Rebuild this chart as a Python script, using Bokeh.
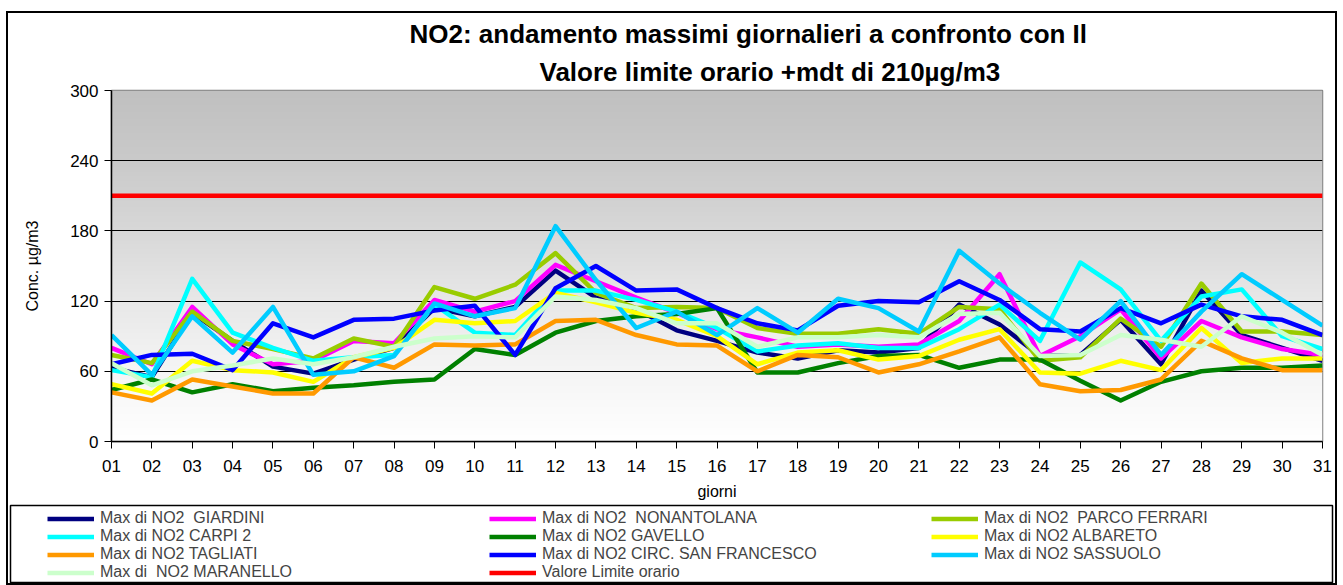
import numpy as np
from bokeh.plotting import figure
from bokeh.layouts import column
from bokeh.models import Range1d, FixedTicker, Legend, LegendItem, Title
from bokeh.embed import file_html
from bokeh.resources import INLINE

# ---------------- data ----------------
days = list(range(1, 32))
day_labels = [f"{d:02d}" for d in days]
y_ticks = [0, 60, 120, 180, 240, 300]

giardini = [63, 55, 110, 86, 64, 58, 70, 80, 114, 107, 115, 146, 123, 113, 95, 86,
            76, 71, 78, 76, 80, 117, 100, 73, 74, 104, 66, 129, 91, 80, 69]
nonantolana = [80, 66, 115, 83, 66, 69, 86, 84, 121, 111, 120, 151, 137, 123, 110, 96,
               89, 81, 83, 81, 83, 103, 143, 73, 90, 113, 71, 103, 89, 79, 74]
parco_ferrari = [74, 67, 111, 86, 79, 71, 88, 81, 132, 122, 134, 161, 127, 114, 115, 114,
                 97, 92, 92, 96, 92, 115, 113, 69, 72, 105, 81, 135, 94, 94, 91]
carpi2 = [61, 55, 139, 93, 80, 69, 72, 74, 117, 93, 91, 129, 129, 121, 111, 97,
          77, 82, 84, 80, 80, 96, 117, 86, 153, 130, 86, 124, 130, 90, 79]
gavello = [44, 53, 42, 49, 43, 46, 48, 51, 53, 79, 74, 93, 103, 107, 109, 114,
           59, 59, 67, 73, 74, 63, 70, 70, 52, 35, 51, 60, 63, 63, 65]
albareto = [49, 41, 69, 61, 59, 51, 72, 80, 104, 101, 103, 127, 119, 110, 104, 90,
            66, 76, 78, 70, 73, 87, 96, 59, 58, 69, 61, 97, 67, 71, 71]
tagliati = [42, 35, 53, 47, 41, 41, 72, 63, 83, 82, 83, 103, 104, 91, 83, 82,
            60, 74, 72, 59, 66, 77, 89, 49, 43, 44, 53, 86, 71, 61, 61]
san_francesco = [66, 74, 75, 61, 101, 89, 104, 105, 112, 116, 74, 131, 150, 129, 130, 114,
                 101, 95, 116, 120, 119, 137, 121, 96, 94, 114, 101, 117, 107, 104, 91]
sassuolo = [91, 57, 107, 76, 115, 57, 60, 73, 118, 107, 114, 184, 138, 97, 111, 91,
            114, 93, 122, 114, 94, 163, 135, 110, 87, 120, 74, 111, 143, 121, 99]
maranello = [67, 48, 60, 65, 71, 66, 72, 81, 88, 90, 89, 124, 121, 114, 101, 101,
             81, 89, 89, 91, 89, 109, 110, 73, 74, 91, 87, 81, 107, 93, 74]
limite_value = 210
limite = [limite_value] * len(days)

series_names = [
    "Max di NO2  GIARDINI", "Max di NO2  NONANTOLANA", "Max di NO2  PARCO FERRARI",
    "Max di NO2 CARPI 2", "Max di NO2 GAVELLO", "Max di NO2 ALBARETO",
    "Max di NO2 TAGLIATI", "Max di NO2 CIRC. SAN FRANCESCO", "Max di NO2 SASSUOLO",
    "Max di  NO2 MARANELLO", "Valore Limite orario",
]
series_values = [giardini, nonantolana, parco_ferrari, carpi2, gavello, albareto,
                 tagliati, san_francesco, sassuolo, maranello, limite]
series_colors = ["#000080", "#FF00FF", "#99CC00", "#00FFFF", "#008000", "#FFFF00",
                 "#FF9900", "#0000FF", "#00CCFF", "#CCFFCC", "#FF0000"]

title_line1 = "NO2: andamento massimi  giornalieri a confronto con Il"
title_line2 = "Valore  limite orario +mdt  di  210µg/m3"

FONT = "Liberation Sans"
LW = 4.5

# ---------------- main figure ----------------
W = 1327
H_MAIN = 490
H_LEG = 80
p = figure(width=W, height=H_MAIN, x_range=Range1d(days[0], days[-1]),
           y_range=Range1d(y_ticks[0], y_ticks[-1]),
           output_backend="svg", toolbar_location=None,
           min_border_left=103, min_border_right=13,
           min_border_top=77, min_border_bottom=62)
p.frame_align = False
p.background_fill_color = "white"
p.border_fill_color = "white"
p.outline_line_color = "#808080"
p.outline_line_width = 1.5

# gradient background of the plot area
n = 300
frac = np.linspace(0, 1, n)
g = np.interp(frac, [0, .2, .4, .6, .8, 1.0], [255, 245, 232, 216, 202, 192]).astype(np.uint8)
img = np.zeros((n, 2), dtype=np.uint32)
view = img.view(dtype=np.uint8).reshape((n, 2, 4))
for c in range(2):
    view[:, c, 0] = g
    view[:, c, 1] = g
    view[:, c, 2] = g
    view[:, c, 3] = 255
p.image_rgba(image=[img], x=days[0], y=y_ticks[0], dw=days[-1] - days[0],
             dh=y_ticks[-1] - y_ticks[0], level="image")

# grid
p.xgrid.visible = False
p.ygrid.ticker = FixedTicker(ticks=y_ticks)
p.ygrid.grid_line_color = "black"
p.ygrid.grid_line_width = 1

# axes
p.yaxis.ticker = FixedTicker(ticks=y_ticks)
p.xaxis.ticker = FixedTicker(ticks=days)
p.xaxis.major_label_overrides = {d: lab for d, lab in zip(days, day_labels)}
for ax in (p.xaxis, p.yaxis):
    ax.axis_line_color = "black"
    ax.axis_line_width = 1.5
    ax.major_tick_line_color = "black"
    ax.major_tick_in = 0
    ax.major_tick_out = 7
    ax.minor_tick_line_color = None
    ax.major_label_text_font = FONT
    ax.major_label_text_font_size = "17px"
    ax.major_label_text_color = "black"
    ax.axis_label_text_font = FONT
    ax.axis_label_text_font_style = "normal"
    ax.axis_label_text_font_size = "16px"
    ax.axis_label_text_color = "black"
p.xaxis.axis_label = "giorni"
p.xaxis.major_label_standoff = 11
p.xaxis.axis_label_standoff = 8
p.yaxis.axis_label = "Conc. µg/m3"
p.yaxis.major_label_standoff = 6
p.yaxis.axis_label_standoff = 26

# title: two lines (later added Title sits nearer to the plot)
p.title.text = title_line1
p.title.align = "left"
p.title.offset = 298
p.title.standoff = 5
p.title.text_font = FONT
p.title.text_font_size = "26px"
p.title.text_font_style = "bold"
p.title.text_color = "black"
p.add_layout(Title(text=title_line2, align="left", offset=428, standoff=7,
                   text_font=FONT, text_font_size="26px", text_font_style="bold",
                   text_color="black"), "above")

# data lines
for vals, col in zip(series_values, series_colors):
    p.line(days, vals, line_color=col, line_width=LW, line_join="round")

# ---------------- legend figure ----------------
leg = figure(width=W, height=H_LEG, x_range=Range1d(0, 1), y_range=Range1d(0, 1),
             x_axis_type=None, y_axis_type=None,
             output_backend="svg", toolbar_location=None,
             min_border_left=2, min_border_right=3, min_border_top=2, min_border_bottom=1)
leg.frame_align = False
leg.grid.visible = False
leg.outline_line_color = "black"
leg.outline_line_width = 1.5
leg.background_fill_color = "white"
leg.border_fill_color = "white"

items = []
for name, vals, col in zip(series_names, series_values, series_colors):
    # proxy renderer (hidden) so that the legend can draw the line sample
    r = leg.line(days, vals, line_color=col, line_width=LW, visible=False)
    items.append(LegendItem(label=name, renderers=[r]))

legend = Legend(items=items, orientation="horizontal", ncols=3,
                location=(37, 1), glyph_width=47, glyph_height=13,
                label_height=13, label_width=389, label_standoff=6, spacing=-1,
                padding=0, margin=0, border_line_alpha=0, background_fill_alpha=0,
                inactive_fill_alpha=0,
                label_text_font=FONT, label_text_font_size="16px")
leg.add_layout(legend)

layout = column(p, leg, spacing=0, margin=(13, 8, 2, 8),
                styles={"outline": "2px solid black"})

open("out.html", "w").write(file_html(layout, INLINE))
